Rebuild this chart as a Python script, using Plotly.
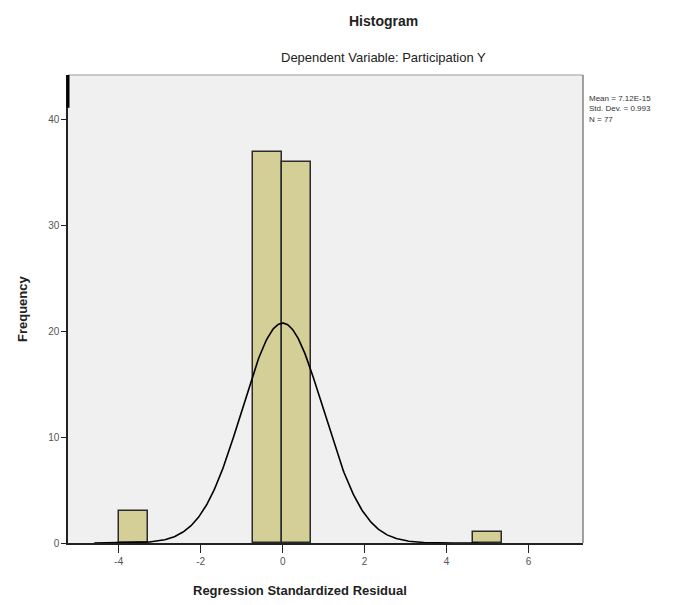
import numpy as np
import plotly.graph_objects as go

# Data
bin_centers = [-3.65, -0.36, 0.33, 5.0]
bin_counts = [3, 37, 36, 1]
bin_width = 0.71
curve_bin_width = 0.672
mean_val = 0.0
sd_val = 0.993
n_val = 77
x_ticks = [-4, -2, 0, 2, 4, 6]
y_ticks = [0, 10, 20, 30, 40]

title_text = "Histogram"
subtitle_text = "Dependent Variable: Participation Y"
legend_lines = ["Mean = 7.12E-15", "Std. Dev. = 0.993", "N = 77"]

fig = go.Figure()
fig.add_trace(go.Bar(
    x=bin_centers, y=bin_counts, width=bin_width,
    marker=dict(color="#d3cf96", line=dict(color="#2b2b2b", width=1.5)),
    hoverinfo="skip"
))

xs = np.linspace(-4.6, 4.8, 400)
ys = n_val * curve_bin_width * np.exp(-0.5 * ((xs - mean_val) / sd_val) ** 2) / (sd_val * np.sqrt(2 * np.pi))
fig.add_trace(go.Scatter(x=xs, y=ys, mode="lines", line=dict(color="black", width=1.6), hoverinfo="skip"))

fig.update_layout(
    width=700, height=605,
    margin=dict(l=68, r=117, t=75, b=62),
    paper_bgcolor="white", plot_bgcolor="#f0f0f0",
    showlegend=False, bargap=0,
    font=dict(family="Liberation Sans, Arial, sans-serif", color="#333"),
    xaxis=dict(range=[-5.24, 7.33], tickvals=x_ticks, ticktext=[str(v) for v in x_ticks],
               showgrid=False, zeroline=False, showline=True, linecolor="#222", linewidth=1.5,
               ticks="outside", ticklen=8, tickcolor="#222", tickfont=dict(size=10, color="#555")),
    yaxis=dict(range=[0, 44.25], tickvals=y_ticks, ticktext=[str(v) for v in y_ticks],
               showgrid=False, zeroline=False, showline=True, linecolor="#222", linewidth=1.5,
               ticks="outside", ticklen=5, tickcolor="#222", tickfont=dict(size=10, color="#555")),
    shapes=[
        dict(type="line", xref="paper", yref="paper", x0=0, x1=1, y0=1, y1=1, line=dict(color="#bbbbbb", width=1.5)),
        dict(type="line", xref="paper", yref="paper", x0=1, x1=1, y0=0, y1=1, line=dict(color="#666666", width=1.2)),
        dict(type="line", xref="paper", yref="paper", x0=0, x1=0, y0=1, y1=0.93, line=dict(color="black", width=3)),
    ],
    annotations=[
        dict(text="<b>" + title_text + "</b>", xref="paper", yref="paper", x=(383 - 68) / 515, y=1 + (75 - 21) / 468,
             showarrow=False, font=dict(size=14, color="#222"), xanchor="center", yanchor="middle"),
        dict(text=subtitle_text, xref="paper", yref="paper", x=(383 - 68) / 515, y=1 + (75 - 58) / 468,
             showarrow=False, font=dict(size=13, color="#222"), xanchor="center", yanchor="middle"),
        dict(text="<br>".join(legend_lines), xref="paper", yref="paper", x=1 + 4 / 515, y=1 - (92 - 75) / 468,
             showarrow=False, font=dict(size=8, color="#333"), xanchor="left", yanchor="top", align="left"),
        dict(text="<b>Regression Standardized Residual</b>", xref="paper", yref="paper",
             x=(300 - 68) / 515, y=-(590 - 543) / 468, showarrow=False,
             font=dict(size=13, color="#222"), xanchor="center", yanchor="middle"),
        dict(text="<b>Frequency</b>", xref="paper", yref="paper", x=-(68 - 22) / 515, y=(543 - 309) / 468,
             showarrow=False, textangle=-90, font=dict(size=13, color="#222"), xanchor="center", yanchor="middle"),
    ],
)

fig.write_html("out.html")
